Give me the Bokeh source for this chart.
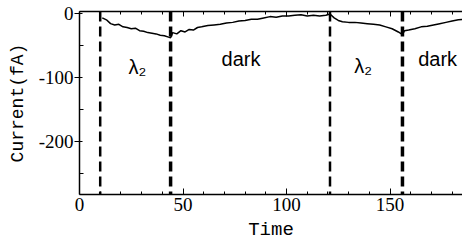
from bokeh.plotting import figure
from bokeh.models import LinearAxis, FixedTicker, Range1d, Span, Label
from bokeh.embed import file_html
from bokeh.resources import INLINE

# data
time = [11, 13, 15, 17, 19, 21, 23, 25, 27, 29, 31, 33, 35, 37, 39, 41, 43, 44,
        45, 47, 49, 51, 53, 55, 57, 59, 62, 65, 68, 71, 74, 77, 80, 83, 86, 89,
        92, 95, 98, 101, 104, 107, 110, 113, 116, 119, 121, 123, 125, 127, 130,
        133, 136, 139, 142, 145, 148, 151, 154, 156, 157, 159, 162, 165, 168,
        171, 174, 177, 180, 183, 186]
current = [-7, -10, -16, -18, -17, -21, -22, -24, -23, -27, -28, -30, -31, -32, -34, -35, -37, -38,
           -30, -32, -27, -29, -25, -26, -22, -21, -19, -18, -17, -15, -14, -12, -11, -9, -9, -7,
           -5, -6, -4, -4, -3, -2, -4, -3, -4, -3, -1, -7, -11, -13, -14,
           -14, -15, -16, -17, -18, -21, -24, -29, -33, -27, -26, -24, -21, -20,
           -18, -16, -14, -12, -10, -9]
switch_times = [10, 44, 121, 156]
switch_widths = [2.5, 3.5, 2.5, 3.5]
region_labels = ["λ₂", "dark", "λ₂", "dark"]
label_x = [28, 78, 137, 173]
label_y = [-83, -71, -82, -71]
x_major = [0, 50, 100, 150]
x_minor = [10, 20, 30, 40, 60, 70, 80, 90, 110, 120, 130, 140, 160, 170, 180]
y_major = [-200, -100, 0]
y_minor = [-250, -150, -50]

p = figure(width=462, height=243, output_backend="svg", toolbar_location=None,
           x_range=Range1d(0, 185), y_range=Range1d(-283, 3),
           x_axis_label="Time", y_axis_label="Current(fA)",
           min_border_left=79, min_border_right=0, min_border_top=11, min_border_bottom=43)
p.outline_line_color = None
p.grid.visible = False
p.background_fill_color = "white"
p.border_fill_color = "white"

for w, t in zip(switch_widths, switch_times):
    p.add_layout(Span(location=t, dimension="height", line_color="black",
                      line_width=w, line_dash="10 5"))

p.line(time, current, line_color="black", line_width=1.5)

for txt, lx, ly in zip(region_labels, label_x, label_y):
    p.add_layout(Label(x=lx, y=ly, text=txt, text_font="Liberation Sans",
                       text_font_size="20px", text_align="center",
                       text_baseline="middle", text_color="black"))

xa = p.xaxis[0]
xa.ticker = FixedTicker(ticks=x_major, minor_ticks=x_minor)
xa.major_tick_in = 6
xa.major_tick_out = 0
xa.minor_tick_in = 3
xa.minor_tick_out = 0
xa.major_label_standoff = 3
xa.axis_label_standoff = 5
xa.major_label_text_font = "Liberation Serif"
xa.major_label_text_font_size = "19px"
xa.axis_label_text_font = "Liberation Mono"
xa.axis_label_text_font_size = "19px"
xa.axis_label_text_font_style = "normal"

ya = p.yaxis[0]
ya.ticker = FixedTicker(ticks=y_major, minor_ticks=y_minor)
ya.major_tick_in = 3
ya.major_tick_out = 5
ya.minor_tick_in = 4
ya.minor_tick_out = 0
ya.major_label_standoff = 1
ya.axis_label_standoff = 8
ya.major_label_overrides = {-200: "-200", -100: "-100", 0: "0"}
ya.major_label_text_font = "Liberation Serif"
ya.major_label_text_font_size = "19px"
ya.axis_label_text_font = "Liberation Mono"
ya.axis_label_text_font_size = "18px"
ya.axis_label_text_font_style = "normal"

for ax in (xa, ya):
    ax.axis_line_width = 1.5
    ax.axis_line_color = "black"
    ax.major_tick_line_color = "black"
    ax.minor_tick_line_color = "black"
    ax.major_label_text_color = "black"
    ax.axis_label_text_color = "black"

top = LinearAxis(ticker=FixedTicker(ticks=x_major, minor_ticks=x_minor),
                 major_label_overrides={t: "" for t in x_major},
                 major_tick_in=5, major_tick_out=0,
                 minor_tick_in=3, minor_tick_out=0, axis_line_width=1.5,
                 major_label_standoff=0)
p.add_layout(top, "above")

open("out.html", "w").write(file_html(p, INLINE))
